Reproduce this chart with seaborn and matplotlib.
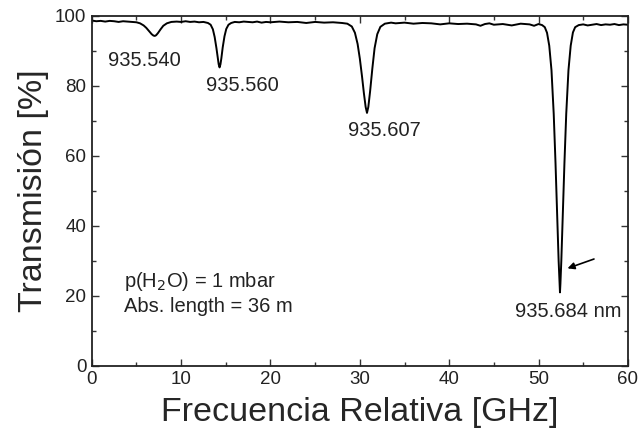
import matplotlib
matplotlib.use("Agg")
import matplotlib.pyplot as plt
import seaborn as sns
import pandas as pd
from matplotlib.ticker import MultipleLocator

sns.set_theme(style="ticks")
plt.rcParams['font.family'] = ['Liberation Sans', 'DejaVu Sans']

# Spectrum
freq = [0.0, 0.5, 1.0, 1.5, 2.0, 2.5, 3.0, 3.5, 4.0, 4.5, 5.0, 5.4, 5.8, 6.1, 6.4, 6.7, 6.9, 7.05, 7.2,
        7.4, 7.7, 8.0, 8.4, 8.9, 9.5, 10.0, 10.5, 11.0, 11.5, 12.0, 12.5, 13.0, 13.3, 13.55, 13.75,
        13.95, 14.1, 14.2, 14.3, 14.4, 14.5, 14.65, 14.85, 15.05, 15.3, 15.6, 16.0, 16.5, 17.0, 17.5,
        18.0, 18.5, 19.0, 19.5, 20.0, 21.0, 22.0, 23.0, 24.0, 25.0, 26.0, 27.0, 28.0, 28.6, 29.1,
        29.45, 29.75, 30.0, 30.25, 30.45, 30.65, 30.8, 30.95, 31.15, 31.4, 31.65, 31.95, 32.3, 32.8,
        33.5, 34.0, 35.0, 36.0, 37.0, 38.0, 39.0, 40.0, 41.0, 42.0, 43.0, 43.5, 44.0, 44.5, 45.0,
        46.0, 47.0, 48.0, 49.0, 49.5, 50.0, 50.4, 50.7, 50.95, 51.2, 51.45, 51.7, 51.9, 52.1, 52.25,
        52.35, 52.4, 52.45, 52.55, 52.7, 52.9, 53.1, 53.35, 53.6, 53.85, 54.1, 54.5, 55.0, 55.5,
        56.0, 56.5, 57.0, 57.5, 58.0, 58.5, 59.0, 59.5, 60.0]
trans = [98.7, 98.5, 98.6, 98.4, 98.6, 98.5, 98.3, 98.5, 98.4, 98.3, 98.2, 97.9, 97.3, 96.6, 95.7, 94.8, 94.4, 94.3, 94.5,
         95.1, 96.2, 97.2, 97.9, 98.3, 98.4, 98.3, 98.5, 98.3, 98.4, 98.2, 98.3, 98.0, 97.5, 96.2, 94.0,
         90.8, 87.9, 86.2, 85.3, 86.2, 87.9, 91.0, 94.2, 96.3, 97.5, 98.0, 98.3, 98.2, 98.4, 98.3,
         98.2, 98.4, 98.1, 98.3, 98.2, 98.4, 98.2, 98.3, 98.0, 98.3, 98.1, 98.2, 98.0, 97.8, 97.0,
         95.2, 92.0, 87.8, 82.6, 78.0, 74.0, 72.3, 74.0, 78.5, 85.0, 90.8, 94.8, 96.9, 97.8,
         98.1, 97.9, 98.1, 97.8, 98.0, 97.9, 97.6, 97.9, 97.7, 97.8, 97.6, 97.2, 97.7, 97.9, 97.5,
         97.7, 97.3, 97.8, 97.6, 97.2, 97.7, 97.4, 96.8, 95.2, 91.5, 84.5, 72.0, 58.0, 42.0, 30.0,
         23.5, 21.0, 23.5, 30.0, 42.0, 58.0, 72.0, 84.5, 91.5, 95.3, 96.8, 97.4, 97.6, 97.3,
         97.5, 97.7, 97.4, 97.6, 97.5, 97.7, 97.4, 97.6, 97.5]

line_labels = ["935.540", "935.560", "935.607", "935.684 nm"]
label_x = [5.9, 16.9, 32.7, 53.3]
label_y = [87.3, 80.0, 67.2, 15.4]

note_lines = [r"p(H$_2$O) = 1 mbar", "Abs. length = 36 m"]
note_y = [24.2, 17.1]

df = pd.DataFrame({"freq": freq, "trans": trans})

fig, ax = plt.subplots(figsize=(6.42, 4.44), dpi=100)
fig.subplots_adjust(left=0.143, right=0.978, top=0.964, bottom=0.176)

sns.lineplot(data=df, x="freq", y="trans", ax=ax, color="black", linewidth=1.4)

ax.set_xlim(0, 60)
ax.set_ylim(0, 100)
ax.xaxis.set_major_locator(MultipleLocator(10))
ax.xaxis.set_minor_locator(MultipleLocator(5))
ax.yaxis.set_major_locator(MultipleLocator(20))
ax.yaxis.set_minor_locator(MultipleLocator(10))
ax.tick_params(which="both", direction="in", top=True, right=True, labelsize=13.5,
               width=1.0, color="#333333", labelcolor="#222222")
ax.tick_params(which="major", length=5, pad=4)
ax.tick_params(which="minor", length=3)
for s in ax.spines.values():
    s.set_linewidth(1.3)
    s.set_color("#222222")

ax.set_xlabel("Frecuencia Relativa [GHz]", fontsize=24.5, labelpad=6)
ax.set_ylabel("Transmisión [%]", fontsize=24.5, labelpad=4)

for t, x, y in zip(line_labels, label_x, label_y):
    ax.text(x, y, t, fontsize=14.5, ha="center", va="center", color="#222222")

for t, y in zip(note_lines, note_y):
    ax.text(3.6, y, t, fontsize=14.5, color="#222222", va="center")

ax.annotate("", xy=(52.95, 27.6), xytext=(56.5, 30.8),
            arrowprops=dict(arrowstyle="-|>", color="black", lw=1.2, mutation_scale=10))

fig.savefig("out.png", dpi=100)
